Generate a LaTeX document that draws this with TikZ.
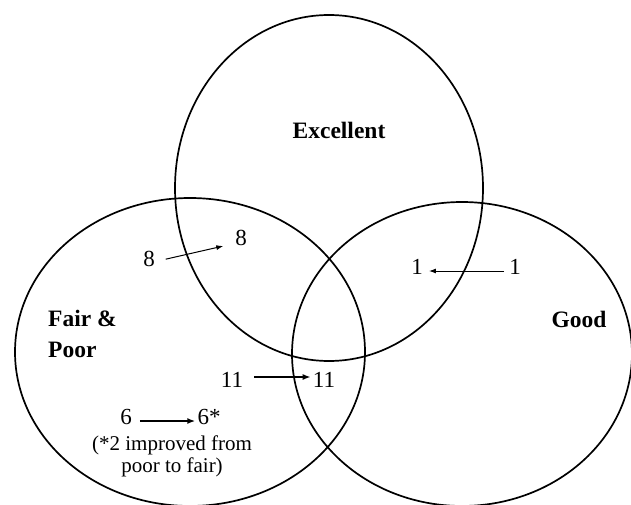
\documentclass[tikz,border=0pt]{standalone}
\usepackage{fontspec}
\setmainfont{Liberation Serif}
\usetikzlibrary{arrows.meta}
\begin{document}
\begin{tikzpicture}[x=1pt,y=-1pt,
  ring/.style={draw=black,line width=1.7pt},
  lbl/.style={font=\fontsize{23.5}{31}\selectfont\bfseries,inner sep=0pt},
  num/.style={font=\fontsize{23}{26}\selectfont,inner sep=2pt,text height=0.68em,text depth=0pt},
  note/.style={font=\fontsize{21}{22}\selectfont,align=center,inner sep=0pt},
  thinarr/.style={line width=1pt,-{Latex[length=7pt,width=5pt]}},
  thickarr/.style={line width=1.8pt,-{Latex[length=8pt,width=6pt]}}]
\useasboundingbox (0,0) rectangle (631,505);
\begin{scope}
  \clip (0,0) rectangle (631,505);
  \draw[ring] (329,188) ellipse [x radius=154, y radius=173];
  \draw[ring] (190,352) ellipse [x radius=175, y radius=154];
  \draw[ring] (462,354) ellipse [x radius=170, y radius=152];
\end{scope}
\node[lbl] (ex) at (339,130) {Excellent};
\node[lbl,align=left,anchor=west] (fp) at (48,334) {Fair \&\\Poor};
\node[lbl] (gd) at (579,319) {Good};
\node[num] (e8a) at (149,263) {8};
\node[num] (e8b) at (241,242) {8};
\node[num] (g1a) at (515,271) {1};
\node[num] (g1b) at (417,271) {1};
\node[num] (f11a) at (232,384) {11};
\node[num] (f11b) at (324,384) {11};
\node[num] (f6a) at (126,421) {6};
\node[num] (f6b) at (209,421) {6*};
\node[note] (nt) at (172,456) {(*2 improved from\\poor to fair)};
\draw[thinarr,shorten <=9pt,shorten >=10pt] (e8a) -- (e8b);
\draw[thinarr,shorten <=3pt,shorten >=4pt] (g1a) -- (g1b);
\draw[thickarr,shorten <=9pt] ([yshift=7pt]f11a.east) -- ([yshift=7pt]f11b.west);
\draw[thickarr,shorten <=6pt] (f6a) -- (f6b);
\end{tikzpicture}
\end{document}
